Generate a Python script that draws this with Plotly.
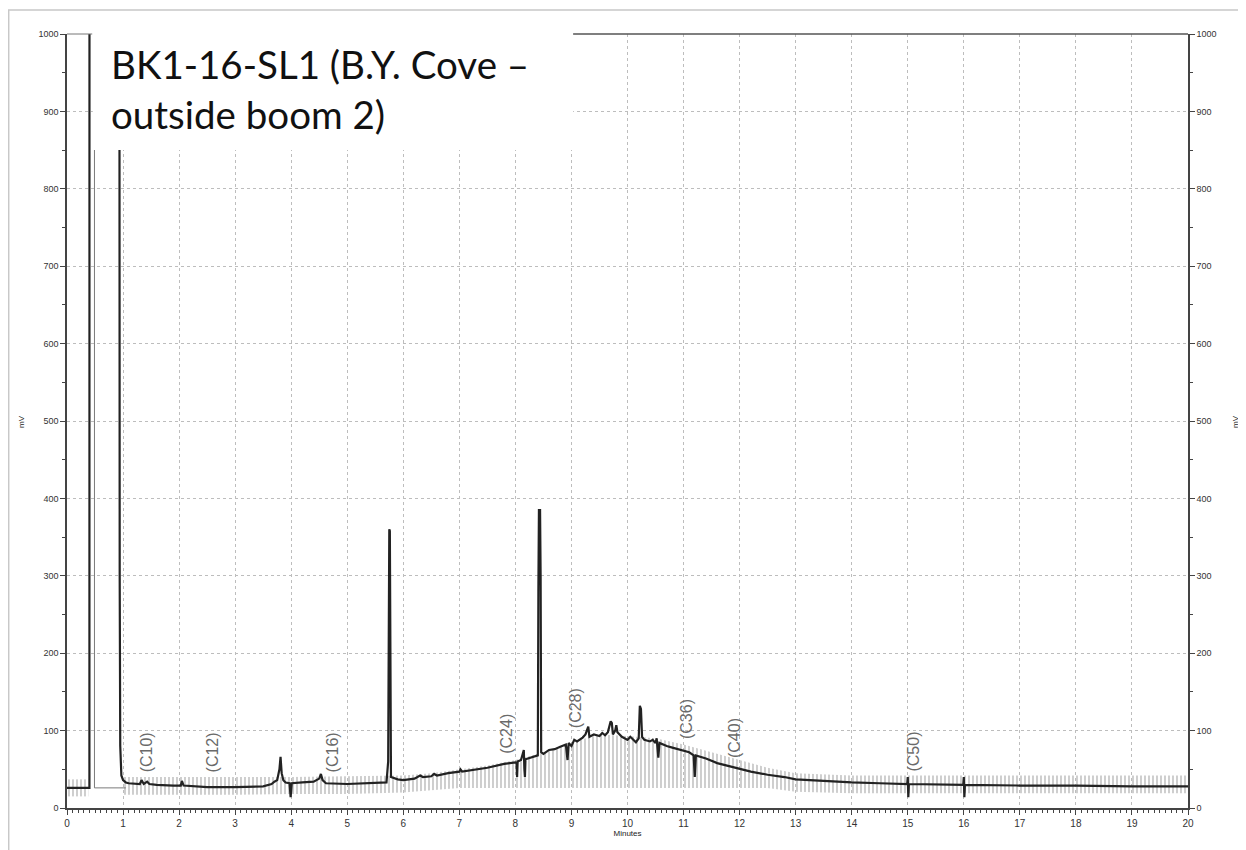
import plotly.graph_objects as go

# ---------------- data ----------------
time_min = [0.00, 0.38, 0.40, 0.401, 0.93, 0.935, 0.94, 0.95, 0.97, 1.00, 1.05, 1.10, 1.30, 1.33, 1.37,
            1.43, 1.47, 1.60, 1.90, 2.03, 2.05, 2.08, 2.50, 3.00, 3.50, 3.65, 3.70, 3.75, 3.79, 3.81,
            3.83, 3.86, 3.90, 3.97, 3.99, 4.01, 4.20, 4.40, 4.50, 4.53, 4.56, 4.62, 5.00, 5.50, 5.70,
            5.73, 5.74, 5.75, 5.76, 5.77, 5.78, 5.90, 6.00, 6.20, 6.30, 6.35, 6.50, 6.55, 6.60, 6.80,
            7.00, 7.02, 7.05, 7.50, 7.80, 8.00, 8.02, 8.03, 8.04, 8.10, 8.13, 8.15, 8.16, 8.17, 8.18,
            8.30, 8.40, 8.41, 8.42, 8.44, 8.45, 8.46, 8.50, 8.60, 8.70, 8.80, 8.90, 8.93, 8.95, 9.00,
            9.05, 9.10, 9.20, 9.25, 9.28, 9.30, 9.32, 9.40, 9.50, 9.55, 9.60, 9.65, 9.70, 9.72, 9.74,
            9.78, 9.80, 9.82, 9.90, 10.00, 10.05, 10.10, 10.15, 10.20, 10.22, 10.24, 10.26, 10.30,
            10.40, 10.45, 10.50, 10.52, 10.55, 10.57, 10.70, 10.80, 10.90, 11.00, 11.10, 11.18, 11.20,
            11.22, 11.40, 11.60, 11.80, 12.00, 12.20, 12.50, 12.80, 13.00, 13.50, 14.00, 14.50, 14.99,
            15.00, 15.01, 15.02, 15.99, 16.00, 16.01, 16.02, 17.00, 18.00, 19.00, 20.00]
signal_mv = [26, 26, 26, 1100, 1100, 1100, 300, 80, 42, 36, 33, 32, 31, 36, 31,
             34, 31, 30, 29, 29, 35, 29, 27, 27, 28, 31, 34, 36, 50, 66,
             45, 36, 33, 32, 14, 32, 33, 34, 38, 44, 36, 32, 31, 32, 33,
             60, 300, 360, 358, 100, 40, 37, 36, 38, 42, 40, 41, 44, 42, 45,
             47, 50, 47, 52, 57, 59, 58, 40, 60, 62, 70, 75, 50, 40, 63,
             66, 68, 280, 385, 385, 300, 72, 70, 75, 76, 79, 82, 62, 84, 80,
             88, 86, 91, 95, 103, 105, 92, 95, 93, 97, 94, 98, 112, 110, 95,
             100, 107, 98, 92, 88, 92, 88, 85, 90, 132, 128, 92, 88,
             86, 88, 84, 90, 65, 84, 80, 78, 76, 74, 72, 68, 40,
             68, 64, 58, 54, 50, 47, 43, 40, 37, 35, 33, 32, 31,
             40, 14, 31, 30, 40, 14, 30, 29, 29, 28, 28]

# secondary thin trace (reference marker near the solvent front)
ref_time = [0.49, 0.49, 1.05]
ref_mv = [1100, 26, 26]

# hatched integration bands
hatchA_x = [0.0, 0.38]
hatchA_lo = [15, 15]
hatchA_hi = [37, 37]
hatchB_x = [1.0, 2.0, 3.0, 4.0, 5.0, 6.0, 6.5, 7.0, 7.5, 8.0, 8.5, 9.0, 9.5, 10.0, 10.5,
            11.0, 11.5, 12.0, 12.5, 13.0, 14.0, 20.0]
hatchB_lo = [17, 17, 17, 18, 18, 20, 23, 26, 26, 26, 26, 26, 26, 26, 26,
             26, 26, 26, 26, 21, 19, 19]
hatchB_hi = [40, 40, 40, 40, 41, 42, 45, 50, 55, 62, 72, 85, 95, 93, 90,
             82, 72, 62, 52, 45, 42, 42]

# carbon-number markers
marker_labels = ["(C10)", "(C12)", "(C16)", "(C24)", "(C28)", "(C36)", "(C40)", "(C50)"]
marker_time = [1.42, 2.60, 4.74, 7.84, 9.07, 11.05, 11.90, 15.10]
marker_base = [43, 43, 43, 68, 101, 87, 62, 45]

title_text = "BK1-16-SL1 (B.Y. Cove –<br>outside boom 2)"
x_ticks = list(range(0, 21))
y_ticks = list(range(0, 1001, 100))

# ---------------- figure ----------------
fig = go.Figure()

pattern = dict(shape="|", size=4, solidity=0.3, fgcolor="#aeaeae",
               bgcolor="rgba(255,255,255,0)", fillmode="replace")

for hx, lo, hi in [(hatchA_x, hatchA_lo, hatchA_hi), (hatchB_x, hatchB_lo, hatchB_hi)]:
    fig.add_trace(go.Scatter(x=hx, y=lo, mode="lines", line=dict(width=0),
                             hoverinfo="skip", showlegend=False))
    fig.add_trace(go.Scatter(x=hx, y=hi, mode="lines", line=dict(width=0),
                             fill="tonexty", fillcolor="rgba(0,0,0,0)",
                             fillpattern=pattern, hoverinfo="skip", showlegend=False))

fig.add_trace(go.Scatter(x=ref_time, y=ref_mv, mode="lines",
                         line=dict(color="#7a7a7a", width=1), showlegend=False))
fig.add_trace(go.Scatter(x=time_min, y=signal_mv, mode="lines",
                         line=dict(color="#222222", width=2.2), showlegend=False))
# dummy trace to anchor the right-hand axis
fig.add_trace(go.Scatter(x=[0], y=[0], yaxis="y2", mode="markers",
                         marker=dict(opacity=0), hoverinfo="skip", showlegend=False))

for lab, t, b in zip(marker_labels, marker_time, marker_base):
    fig.add_annotation(x=t, y=b, text=lab, textangle=-90, showarrow=False,
                       xanchor="center", yanchor="bottom",
                       font=dict(family="Liberation Sans, Arial", size=16, color="#6a6a6a"))

fig.add_annotation(xref="paper", yref="paper", x=0.0374, y=0.9940, xanchor="left", yanchor="top",
                   align="left", text=title_text, showarrow=False,
                   font=dict(family="Lato", size=38.5, color="#111111"))

# axis titles "mV" on both sides
for px in (-0.040, 1.0430):
    fig.add_annotation(xref="paper", yref="paper", x=px, y=0.499, text="mV", textangle=-90,
                       showarrow=False, xanchor="center", yanchor="middle",
                       font=dict(family="Liberation Sans, Arial", size=8, color="#222222"))

grid_common = dict(showgrid=True, gridcolor="#bdbdbd", gridwidth=1, griddash="3px,3px",
                   zeroline=False, showline=True, linecolor="#444444", linewidth=1.5,
                   ticks="outside", tickcolor="#444444", ticklen=5, automargin=False,
                   tickfont=dict(family="Liberation Sans, Arial", size=9, color="#333333"))

# page body adds an 8px offset, so the figure is 8px smaller and margins shifted
fig.update_layout(
    width=1238, height=842,
    margin=dict(l=59, r=58, t=26, b=42),
    paper_bgcolor="white", plot_bgcolor="white",
    xaxis=dict(range=[0, 20], tickvals=x_ticks, **grid_common,
               minor=dict(dtick=0.1, ticks="outside", ticklen=3, tickcolor="#444444", showgrid=False),
               title=dict(text="Minutes", standoff=2,
                          font=dict(family="Liberation Sans, Arial", size=8, color="#222222"))),
    yaxis=dict(range=[0, 1000], tickvals=y_ticks, **grid_common,
               minor=dict(dtick=50, ticks="outside", ticklen=3, tickcolor="#444444", showgrid=False)),
    yaxis2=dict(range=[0, 1000], tickvals=y_ticks, overlaying="y", side="right",
                showgrid=False, zeroline=False, showline=True, linecolor="#444444", linewidth=1.5,
                ticks="outside", tickcolor="#444444", ticklen=5, automargin=False,
                tickfont=dict(family="Liberation Sans, Arial", size=9, color="#333333"),
                minor=dict(dtick=50, ticks="outside", ticklen=3, tickcolor="#444444")),
)
fig.update_xaxes(tickfont=dict(size=10))

shapes = [
    # outer slide frame
    dict(type="rect", xref="paper", yref="paper", x0=-0.0520, x1=1.07, y0=-0.08, y1=1.031,
         line=dict(color="#c8c8c8", width=1.5), fillcolor="rgba(0,0,0,0)", layer="below"),
    # white box behind the title
    dict(type="rect", xref="x", yref="y", x0=0.46, x1=9.03, y0=850, y1=1040,
         fillcolor="white", line=dict(width=0), layer="above"),
    # top border segments
    dict(type="line", xref="x", yref="paper", x0=9.03, x1=20, y0=1, y1=1,
         line=dict(color="#555555", width=1.5), layer="above"),
    dict(type="line", xref="x", yref="paper", x0=0, x1=0.45, y0=1, y1=1,
         line=dict(color="#777777", width=1), layer="above"),
]
fig.update_layout(shapes=shapes)

fig.write_html("out.html")
